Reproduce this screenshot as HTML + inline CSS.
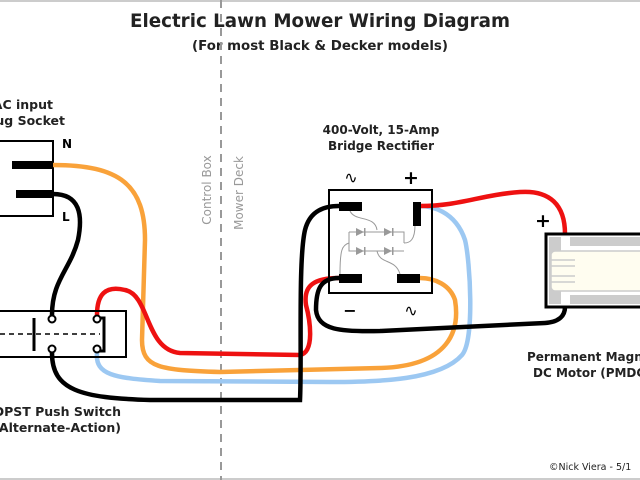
<!DOCTYPE html>
<html><head><meta charset="utf-8"><style>
html,body{margin:0;padding:0;background:#fff;}
svg{display:block;font-family:"DejaVu Sans","Liberation Sans",sans-serif;}
</style></head><body>
<svg width="640" height="480" viewBox="0 0 640 480" xmlns="http://www.w3.org/2000/svg">
<rect width="640" height="480" fill="#fff"/>
<line x1="0" y1="1" x2="640" y2="1" stroke="#ccc" stroke-width="2"/>
<line x1="0" y1="479" x2="640" y2="479" stroke="#ccc" stroke-width="2"/>
<text x="320" y="27" text-anchor="middle" font-size="19" font-weight="bold" fill="#222" textLength="380" lengthAdjust="spacingAndGlyphs">Electric Lawn Mower Wiring Diagram</text>
<text x="320" y="50" text-anchor="middle" font-size="13.5" font-weight="bold" fill="#222" textLength="256" lengthAdjust="spacingAndGlyphs">(For most Black &amp; Decker models)</text>

<!-- divider -->
<line x1="221" y1="0" x2="221" y2="480" stroke="#999" stroke-width="2" stroke-dasharray="8,6"/>
<text transform="translate(211,190) rotate(-90)" text-anchor="middle" font-size="12" fill="#999">Control Box</text>
<text transform="translate(243,193) rotate(-90)" text-anchor="middle" font-size="12" fill="#999">Mower Deck</text>

<!-- socket -->
<text x="53" y="109" text-anchor="end" font-size="12.5" font-weight="bold" fill="#222">AC input</text>
<text x="65" y="125" text-anchor="end" font-size="12.5" font-weight="bold" fill="#222">Plug Socket</text>
<rect x="-5" y="141" width="58" height="75" fill="#fff" stroke="#000" stroke-width="2"/>
<text x="62" y="148" font-size="12" font-weight="bold">N</text>
<text x="62" y="221" font-size="12" font-weight="bold">L</text>

<!-- wires -->
<g fill="none" stroke-width="4.5" stroke-linecap="round">
<path d="M53,165 C120,165 145,185 145,240 L142,340 C142,368 160,370 220,372 L380,368 C450,366 460,330 455,300 C450,285 435,278 420,278" stroke="#f9a23a"/>
<path d="M53,194 C80,194 83,215 78,240 C70,270 52,280 52,315" stroke="#000"/>
<path d="M97,315 C97,295 105,285 125,290 C150,295 145,350 180,353 L300,355 C315,352 310,320 306,305 C303,285 315,278 339,278" stroke="#ee1111"/>
<path d="M97,353 C95,375 115,378 160,381 L330,382 C380,382 440,380 462,355 C475,340 470,260 465,240 C455,210 430,206 420,206" stroke="#9cc8f2"/>
<path d="M52,353 C52,390 80,398 150,400 L300,400 C302,360 298,260 305,230 C310,210 325,206 339,206" stroke="#000"/>
<path d="M339,278 C320,278 316,290 316,310 C318,330 340,332 380,331 L545,323 C560,322 565,315 565,307" stroke="#000"/>
<path d="M420,206 C460,206 480,195 520,192 C550,190 565,205 565,234" stroke="#ee1111"/>
</g>

<!-- switch -->
<rect x="-5" y="311" width="131" height="46" fill="none" stroke="#000" stroke-width="2"/>
<line x1="0" y1="334" x2="100" y2="334" stroke="#000" stroke-width="1.5" stroke-dasharray="5,4"/>
<line x1="34" y1="318" x2="34" y2="351" stroke="#000" stroke-width="3"/>
<path d="M99,318 L104,318 L104,351 L99,351" fill="none" stroke="#000" stroke-width="3"/>
<g fill="#fff" stroke="#000" stroke-width="2">
<circle cx="52" cy="319" r="3.5"/><circle cx="52" cy="349" r="3.5"/>
<circle cx="97" cy="319" r="3.5"/><circle cx="97" cy="349" r="3.5"/>
</g>
<text x="121" y="416" text-anchor="end" font-size="12.5" font-weight="bold" fill="#222">DPST Push Switch</text>
<text x="121" y="432" text-anchor="end" font-size="12.5" font-weight="bold" fill="#222">(Alternate-Action)</text>

<!-- socket prongs -->
<rect x="12" y="161" width="41" height="8" fill="#000"/>
<rect x="16" y="190" width="37" height="8" fill="#000"/>

<!-- rectifier -->
<text x="381" y="134" text-anchor="middle" font-size="12" font-weight="bold" fill="#222">400-Volt, 15-Amp</text>
<text x="381" y="150" text-anchor="middle" font-size="12" font-weight="bold" fill="#222">Bridge Rectifier</text>
<text x="351" y="183" text-anchor="middle" font-size="16" fill="#000">∿</text>
<text x="411" y="184" text-anchor="middle" font-size="19" font-weight="bold" fill="#000">+</text>
<text x="350" y="316" text-anchor="middle" font-size="16" font-weight="bold" fill="#000">−</text>
<text x="411" y="316" text-anchor="middle" font-size="16" fill="#000">∿</text>
<rect x="329" y="190" width="103" height="103" fill="none" stroke="#000" stroke-width="2"/>
<g fill="none" stroke="#999" stroke-width="1">
<path d="M350,211 C355,222 375,215 377,230"/>
<path d="M415,225 C415,240 410,243 404,243"/>
<path d="M349,232 L404,232 L404,243 M349,232 L349,251 L404,251 M377,251 C380,265 395,258 400,274"/>
<path d="M349,243 C342,245 340,250 340,274"/>
</g>
<g fill="#999">
<path d="M356,228 L364,232 L356,236Z"/><rect x="364" y="228" width="1.5" height="8"/>
<path d="M384,228 L392,232 L384,236Z"/><rect x="392" y="228" width="1.5" height="8"/>
<path d="M356,247 L364,251 L356,255Z"/><rect x="364" y="247" width="1.5" height="8"/>
<path d="M384,247 L392,251 L384,255Z"/><rect x="392" y="247" width="1.5" height="8"/>
</g>
<rect x="339" y="202" width="23" height="9" fill="#000"/>
<rect x="413" y="202" width="8" height="24" fill="#000"/>
<rect x="339" y="274" width="23" height="9" fill="#000"/>
<rect x="397" y="274" width="23" height="9" fill="#000"/>

<!-- motor -->
<text x="543" y="227" text-anchor="middle" font-size="19" font-weight="bold">+</text>
<rect x="546" y="234" width="100" height="73" fill="#fff" stroke="#000" stroke-width="3"/>
<rect x="549" y="237" width="12" height="67" fill="#ccc"/>
<rect x="570" y="237" width="70" height="9" fill="#ccc"/>
<rect x="570" y="295" width="70" height="9" fill="#ccc"/>
<rect x="551" y="251" width="95" height="40" rx="4" fill="#fffdf0" stroke="#ccc" stroke-width="1.5"/>
<g stroke="#ccc" stroke-width="1.5"><line x1="551" y1="260" x2="575" y2="260"/><line x1="551" y1="266" x2="575" y2="266"/><line x1="551" y1="276" x2="575" y2="276"/><line x1="551" y1="282" x2="575" y2="282"/></g>
<text x="527" y="361" font-size="12" font-weight="bold" fill="#222">Permanent Magnet</text>
<text x="533" y="377" font-size="12" font-weight="bold" fill="#222">DC Motor (PMDC)</text>
<text x="549" y="470" font-size="9.5" fill="#222">©Nick Viera - 5/1</text>
</svg>
</body></html>
